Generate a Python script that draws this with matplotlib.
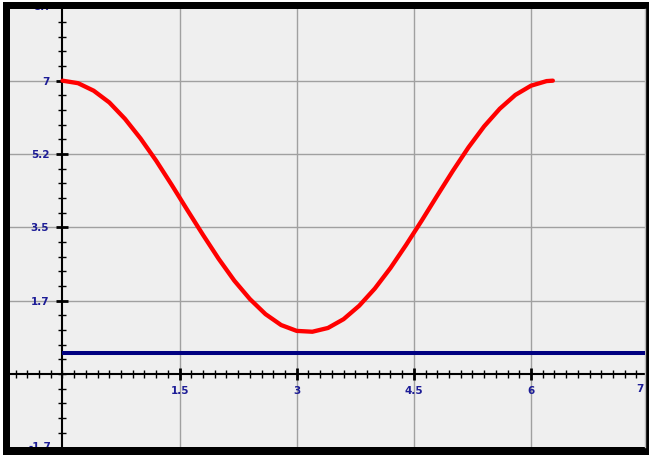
import matplotlib
matplotlib.use('Agg')
from matplotlib import pyplot as plt
from matplotlib.patches import Rectangle
from matplotlib.ticker import FixedLocator, MultipleLocator

# curve
x_vals = [0, 0.2, 0.4, 0.6, 0.8, 1.0, 1.2, 1.4, 1.6, 1.8, 2.0, 2.2, 2.4, 2.6, 2.8, 3.0,
          3.2, 3.4, 3.6, 3.8, 4.0, 4.2, 4.4, 4.6, 4.8, 5.0, 5.2, 5.4, 5.6, 5.8, 6.0,
          6.2, 6.28]
y_vals = [7.00, 6.94, 6.76, 6.48, 6.09, 5.62, 5.09, 4.51, 3.91, 3.32, 2.75, 2.23, 1.79,
          1.43, 1.17, 1.03, 1.01, 1.10, 1.31, 1.63, 2.04, 2.53, 3.08, 3.66, 4.26, 4.85,
          5.41, 5.91, 6.33, 6.66, 6.88, 6.99, 7.00]

level_x = [0, 7.6]
level_y = [0.5, 0.5]

x_ticks = [1.5, 3, 4.5, 6]
x_labels = ['1.5', '3', '4.5', '6']
y_ticks = [1.75, 3.5, 5.25, 7]
y_labels = ['1.7', '3.5', '5.2', '7']

label_color = '#1c1c96'

fig = plt.figure(figsize=(6.49, 4.55), dpi=100)
fig.patch.set_facecolor('white')
fig.patches.append(Rectangle((2.5 / 649, 0), 1, 453 / 455, transform=fig.transFigure,
                             facecolor='black', edgecolor='none', zorder=-1))

ax = fig.add_axes([10 / 649, 8 / 455, 635 / 649, 438 / 455])
ax.set_facecolor('#efefef')

ax.plot(level_x, level_y, color='#000080', linewidth=2.9, solid_capstyle='butt', zorder=3)
ax.plot(x_vals, y_vals, color='#ff0000', linewidth=3.1, solid_capstyle='round',
        solid_joinstyle='round', zorder=4)

ax.set_xlim(-0.672, 7.46)
ax.set_ylim(-1.74, 8.71)

ax.spines['left'].set_position(('data', 0))
ax.spines['bottom'].set_position(('data', 0))
ax.spines['top'].set_visible(False)
ax.spines['right'].set_color('#bbbbbb')
ax.spines['right'].set_linewidth(1)
for s in ['left', 'bottom']:
    ax.spines[s].set_linewidth(1.5)
    ax.spines[s].set_color('black')
    ax.spines[s].set_zorder(2)

ax.xaxis.set_major_locator(FixedLocator(x_ticks))
ax.set_xticklabels(x_labels)
ax.yaxis.set_major_locator(FixedLocator(y_ticks))
ax.set_yticklabels(y_labels)
ax.xaxis.set_minor_locator(MultipleLocator(0.15))
ax.yaxis.set_minor_locator(MultipleLocator(0.35))

ax.tick_params(which='major', direction='inout', length=9, width=2, color='black',
               labelsize=7.5, labelcolor=label_color)
ax.tick_params(axis='x', which='major', pad=4)
ax.tick_params(axis='y', which='major', pad=5)
ax.tick_params(which='minor', direction='inout', length=6, width=1, color='black')
for t in ax.get_xticklabels() + ax.get_yticklabels():
    t.set_fontweight('bold')

ax.grid(True, which='major', color='#a0a0a0', linewidth=1)
ax.set_axisbelow(True)

# edge labels, partly hidden under the frame
ax.text(7.40, -0.35, '7', ha='center', va='center', fontsize=7.5, fontweight='bold',
        color=label_color, clip_on=True)
ax.text(-0.14, 8.75, '8.7', ha='right', va='center', fontsize=7.5, fontweight='bold',
        color=label_color, clip_on=True)
ax.text(-0.14, -1.75, '-1.7', ha='right', va='center', fontsize=7.5, fontweight='bold',
        color=label_color, clip_on=True)

plt.savefig('out.png', dpi=100)
